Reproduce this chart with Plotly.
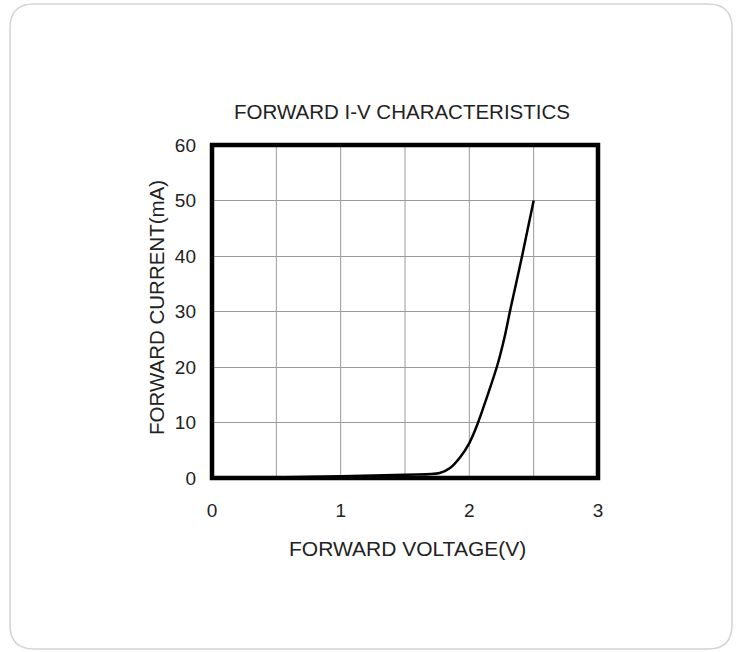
import plotly.graph_objects as go

voltage = [0.0, 0.5, 1.0, 1.5, 1.77, 1.85, 1.93, 2.0, 2.06, 2.14, 2.22, 2.27, 2.32, 2.41, 2.5]
current = [0.0, 0.1, 0.3, 0.6, 0.9, 1.8, 3.8, 6.3, 9.5, 14.8, 20.5, 25.0, 30.5, 40.0, 50.0]

x_ticks = [0, 1, 2, 3]
y_ticks = [0, 10, 20, 30, 40, 50, 60]

W, H = 740, 652
L, R, T, B = 212, 598, 145, 478
pw, ph = R - L, B - T

def px(x):
    return (x - L) / pw

def py(y):
    return (B - y) / ph

# rounded card
cl, cr, ct, cb, rad = 10, 732, 4, 649, 24
path = (
    f"M {px(cl+rad)},{py(ct)} L {px(cr-rad)},{py(ct)} Q {px(cr)},{py(ct)} {px(cr)},{py(ct+rad)} "
    f"L {px(cr)},{py(cb-rad)} Q {px(cr)},{py(cb)} {px(cr-rad)},{py(cb)} "
    f"L {px(cl+rad)},{py(cb)} Q {px(cl)},{py(cb)} {px(cl)},{py(cb-rad)} "
    f"L {px(cl)},{py(ct+rad)} Q {px(cl)},{py(ct)} {px(cl+rad)},{py(ct)} Z"
)

font_family = "Liberation Sans, Arial, sans-serif"
txt = "#222"

fig = go.Figure()
fig.add_trace(go.Scatter(
    x=voltage, y=current, mode="lines",
    line=dict(color="black", width=2.5, shape="spline", smoothing=1.0),
    hoverinfo="skip", showlegend=False,
))

fig.update_layout(
    width=W, height=H,
    margin=dict(l=L, r=W - R, t=T, b=H - B),
    paper_bgcolor="white", plot_bgcolor="white",
    font=dict(family=font_family, size=19, color=txt),
    xaxis=dict(range=[0, 3], tickvals=x_ticks, ticktext=[str(v) for v in x_ticks],
               showgrid=False, zeroline=False, showline=False, ticks="",
               ticklabelstandoff=19, tickfont=dict(size=19)),
    yaxis=dict(range=[0, 60], tickvals=y_ticks, showgrid=True, gridcolor="#9a9a9a", gridwidth=1,
               zeroline=False, showline=False, ticks="",
               ticklabelstandoff=15, tickfont=dict(size=19)),
    annotations=[
        dict(text="FORWARD I\u2011V CHARACTERISTICS", xref="paper", yref="paper",
             x=px(402), y=py(112), xanchor="center", yanchor="middle",
             showarrow=False, font=dict(size=20.5, color=txt)),
        dict(text="FORWARD VOLTAGE(V)", xref="paper", yref="paper",
             x=px(407), y=py(548), xanchor="center", yanchor="middle",
             showarrow=False, font=dict(size=21, color=txt)),
        dict(text="FORWARD CURRENT(mA)", xref="paper", yref="paper",
             x=px(156), y=py(308), xanchor="center", yanchor="middle", textangle=-90,
             showarrow=False, font=dict(size=20.5, color=txt)),
    ],
    shapes=[
        dict(type="path", path=path, xref="paper", yref="paper",
             line=dict(color="#d4d4d4", width=1.5), fillcolor="rgba(0,0,0,0)", layer="below"),
    ] + [
        dict(type="line", xref="x", yref="paper", x0=v, x1=v, y0=0, y1=1,
             line=dict(color="#9a9a9a", width=1), layer="below")
        for v in [0.5, 1.0, 1.5, 2.0, 2.5]
    ] + [
        dict(type="rect", xref="paper", yref="paper", x0=0, x1=1, y0=0, y1=1,
             line=dict(color="black", width=4.5), layer="above"),
    ],
)

fig.write_html("out.html", config={"displayModeBar": False},
               post_script="document.body.style.margin='0';")
